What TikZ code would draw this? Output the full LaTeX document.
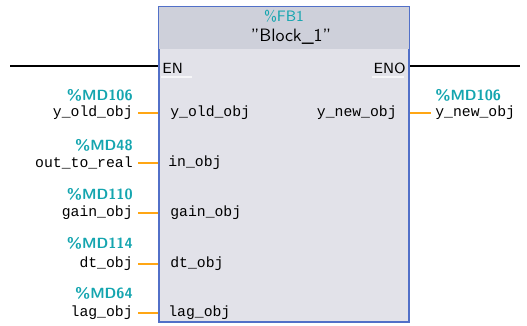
\documentclass[tikz,border=0pt]{standalone}
\usepackage{fontspec}
\setmainfont{Liberation Sans}
\setmonofont{Liberation Mono}
\definecolor{blockfill}{RGB}{226,226,233}
\definecolor{headfill}{RGB}{206,208,218}
\definecolor{blockline}{RGB}{82,112,200}
\definecolor{tagcol}{RGB}{20,165,175}
\definecolor{wirecol}{RGB}{255,166,20}
\begin{document}
\begin{tikzpicture}[x=0.02cm, y=-0.02cm]
\tikzstyle{every node}=[inner sep=0pt, font=\ttfamily\fontsize{8.4}{10}\selectfont]
\tikzstyle{tag}=[text=tagcol, font=\sffamily\bfseries\fontsize{8.4}{10}\selectfont, anchor=east]
\tikzstyle{var}=[anchor=east]
\tikzstyle{pin}=[anchor=west]
\tikzstyle{wire}=[wirecol, line width=1.2pt]
\tikzstyle{enline}=[black, line width=1.3pt]
\useasboundingbox (0,0) rectangle (527,325);
% the function block
\node[draw=blockline, line width=0.9pt, fill=blockfill, minimum width=5cm, minimum height=6.3cm] (blk) at (284,164.5) {};
\fill[headfill] ([shift={(0.45pt,-0.45pt)}]blk.north west) rectangle ([shift={(-0.45pt,-43*0.02cm)}]blk.north east);
\node[text=tagcol, font=\sffamily\fontsize{8.6}{10}\selectfont] (fb) at (284,16) {\%FB1};
\node[font=\sffamily\fontsize{10.2}{12}\selectfont] (name) at (291,37) {"Block\_1"};
% enable in / out
\node[pin, font=\sffamily\fontsize{8.4}{10}\selectfont] (EN) at (162,68) {EN};
\node[anchor=east, font=\sffamily\fontsize{8.4}{10}\selectfont] (ENO) at (406,68) {ENO};
\coordinate (enin) at (10,66);
\coordinate (enout) at (520,66);
\draw[enline] (enin) -- (blk.west |- enin);
\draw[enline] (blk.east |- enout) -- (enout);
\draw[white!70!blockfill, line width=0.8pt] (161,77) -- (192,77);
\draw[white!70!blockfill, line width=0.8pt] (372,77) -- (404,77);
% inputs
\node[tag] (t1) at (133,95) {\%MD106};
\node[var] (v1) at (133,113) {y\_old\_obj};
\node[pin] (p1) at (170,113) {y\_old\_obj};
\node[tag] (t2) at (133,145) {\%MD48};
\node[var] (v2) at (133,163) {out\_to\_real};
\node[pin] (p2) at (168,163) {in\_obj};
\node[tag] (t3) at (133,194) {\%MD110};
\node[var] (v3) at (133,213) {gain\_obj};
\node[pin] (p3) at (170,213) {gain\_obj};
\node[tag] (t4) at (133,243) {\%MD114};
\node[var] (v4) at (133,264) {dt\_obj};
\node[pin] (p4) at (170,264) {dt\_obj};
\node[tag] (t5) at (133,293) {\%MD64};
\node[var] (v5) at (133,313) {lag\_obj};
\node[pin] (p5) at (168,313) {lag\_obj};
\foreach \i in {1,...,5}
  \draw[wire] ([xshift=5*0.02cm]v\i.east) -- (blk.west |- v\i);
% output
\node[anchor=east] (p6) at (397,113) {y\_new\_obj};
\node[tag, anchor=west] (t6) at (435,95) {\%MD106};
\node[pin] (v6) at (435,113) {y\_new\_obj};
\draw[wire] (blk.east |- v6) -- ([xshift=-4*0.02cm]v6.west);
\end{tikzpicture}
\end{document}
